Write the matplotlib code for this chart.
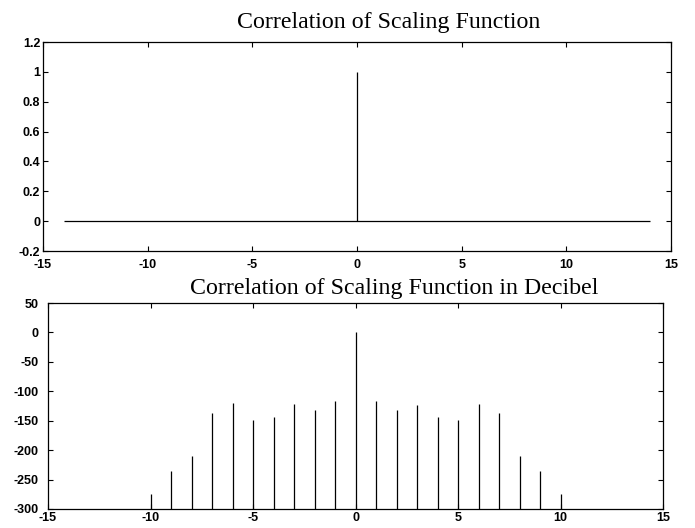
"""Correlacion de la funcion de escala: lineal y en decibelios."""
import matplotlib
matplotlib.use("Agg")
import matplotlib.pyplot as plt

# --- datos ---
lags_top = list(range(-14, 15))
corr_top = [0.0] * 14 + [1.0] + [0.0] * 14

lags_db = list(range(-10, 11))
corr_db = [-274, -235, -210, -137, -120, -148, -143, -122, -131, -116,
           0,
           -117, -131, -123, -143, -148, -121, -137, -210, -235, -274]

xticks = [-15, -10, -5, 0, 5, 10, 15]
yticks_top = [-0.2, 0, 0.2, 0.4, 0.6, 0.8, 1.0, 1.2]
yticklabels_top = ["-0.2", "0", "0.2", "0.4", "0.6", "0.8", "1", "1.2"]
yticks_db = [-300, -250, -200, -150, -100, -50, 0, 50]

TICKFONT = dict(family="Liberation Sans", size=9, weight="bold")
TITLEFONT = dict(family="Liberation Serif", size=17.2)


def estilo(ax, xpad, ypad):
    ax.tick_params(direction="in", top=True, right=True, length=3.3, width=0.8)
    ax.tick_params(axis="x", pad=xpad)
    ax.tick_params(axis="y", pad=ypad)
    for s in ax.spines.values():
        s.set_linewidth(0.9)
    for lab in ax.get_xticklabels() + ax.get_yticklabels():
        lab.set_fontfamily(TICKFONT["family"])
        lab.set_fontsize(TICKFONT["size"])
        lab.set_fontweight(TICKFONT["weight"])


fig = plt.figure(figsize=(6.95, 5.28), dpi=100)

# --- (1) correlacion lineal ---
ax = fig.add_axes([0.0619, 0.5246, 0.9036, 0.3958])
ax.hlines(0, min(lags_top), max(lags_top), color="k", lw=0.9)
ax.vlines(lags_top, 0, corr_top, color="k", lw=0.9)
ax.set_xlim(-15, 15); ax.set_ylim(-0.2, 1.2)
ax.set_xticks(xticks); ax.set_xticklabels([str(v) for v in xticks])
ax.set_yticks(yticks_top); ax.set_yticklabels(yticklabels_top)
estilo(ax, xpad=5.5, ypad=2)
ax.text(0.550, 1.067, "Correlation of Scaling Function", transform=ax.transAxes,
        ha="center", va="baseline", **TITLEFONT)

# --- (2) correlacion en dB ---
ax = fig.add_axes([0.0691, 0.036, 0.8849, 0.390])
ax.vlines(lags_db, -300, corr_db, color="k", lw=0.9)
ax.set_xlim(-15, 15); ax.set_ylim(-300, 50)
ax.set_xticks(xticks); ax.set_xticklabels([str(v) for v in xticks])
ax.set_yticks(yticks_db); ax.set_yticklabels([str(v) for v in yticks_db])
estilo(ax, xpad=2.5, ypad=6.5)
ax.text(0.5626, 1.0437, "Correlation of Scaling Function in Decibel", transform=ax.transAxes,
        ha="center", va="baseline", **TITLEFONT)

fig.savefig("out.png", dpi=100)
plt.close(fig)
